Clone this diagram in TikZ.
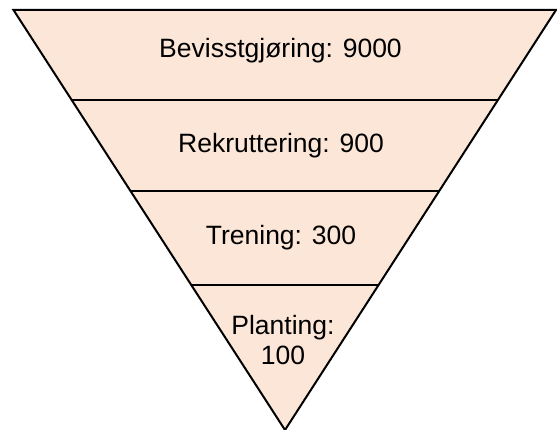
\documentclass[tikz,border=0pt]{standalone}
\usepackage{fontspec}
\setmainfont{Liberation Sans}
\usetikzlibrary{calc}
\definecolor{peach}{HTML}{FBE6D8}
\begin{document}
\begin{tikzpicture}[x=1pt,y=-1pt,
  edge/.style={line width=2pt,line join=miter},
  label/.style={font=\fontsize{26.5}{30}\selectfont,inner sep=0pt,text=black,align=center}]
\useasboundingbox (0,0) rectangle (557,430);
\coordinate (tl) at (13.5,10);
\coordinate (tr) at (556,10);
\coordinate (ap) at (285,430);
\fill[peach] (tl) -- (tr) -- (ap) -- cycle;
% divider lines
\coordinate (l1) at ($(tl)!90/420!(ap)$);
\coordinate (r1) at ($(tr)!90/420!(ap)$);
\coordinate (l2) at ($(tl)!181/420!(ap)$);
\coordinate (r2) at ($(tr)!181/420!(ap)$);
\coordinate (l3) at ($(tl)!275/420!(ap)$);
\coordinate (r3) at ($(tr)!275/420!(ap)$);
\draw[edge] (l1) -- (r1);
\draw[edge] (l2) -- (r2);
\draw[edge] (l3) -- (r3);
\draw[edge] (tl) -- (tr) -- (ap) -- cycle;
\node[label,anchor=base] (t1) at (280.5,58) {Bevisstgjøring: 9000};
\node[label,anchor=base] (t2) at (281,152.7) {Rekruttering: 900};
\node[label,anchor=base] (t3) at (281,244.3) {Trening: 300};
\node[label,anchor=south] (t4) at (283,365) {Planting:\\100};
\end{tikzpicture}
\end{document}
